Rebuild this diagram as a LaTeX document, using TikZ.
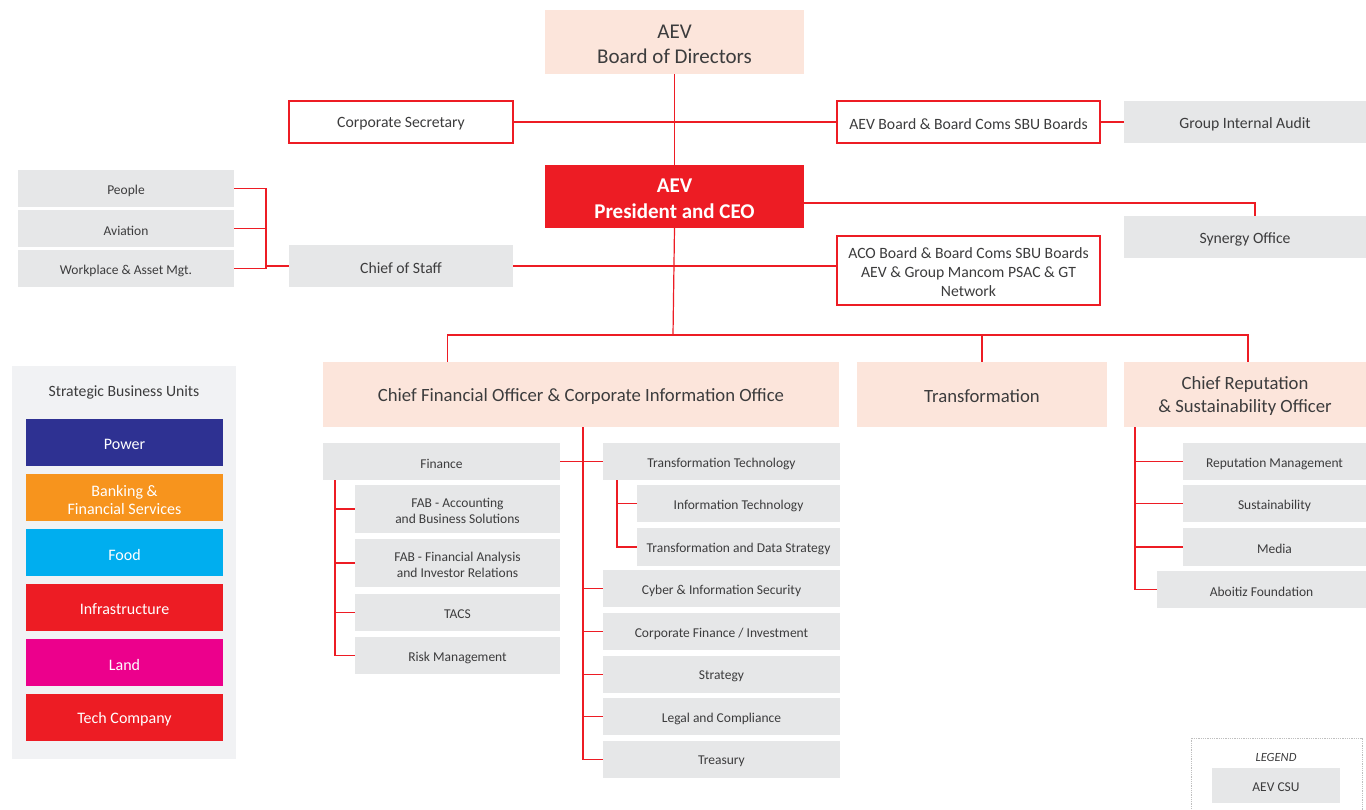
\documentclass[tikz,border=0pt]{standalone}
\usepackage{fontspec}
\setmainfont{Carlito}
\usetikzlibrary{calc}
\definecolor{aevred}{HTML}{ED1C24}
\definecolor{boxgray}{HTML}{E6E7E8}
\definecolor{peach}{HTML}{FCE5DB}
\definecolor{txt}{HTML}{3C3C3D}
\definecolor{panel}{HTML}{F1F2F4}
\definecolor{sbupower}{HTML}{2E3192}
\definecolor{sbubank}{HTML}{F7941D}
\definecolor{sbufood}{HTML}{00AEEF}
\definecolor{sbuland}{HTML}{EC008C}
\newcommand\mkbox[7]{%
  \node[#2, minimum width={(#5-#3)*1pt}, minimum height={(#6-#4)*1pt}] (#1) at ({(#3+#5)/2},{(#4+#6)/2}) {};
  \node[#2, fill=none, draw=none, minimum width=0pt, minimum height=0pt, yshift=-2pt] (#1-t) at (#1.center) {#7};}
\tikzset{
  base/.style={inner sep=0pt, outer sep=0pt, align=center, text=txt},
  gbox/.style={base, fill=boxgray},
  pbox/.style={base, fill=peach},
  rbox/.style={base, fill=white, draw=aevred, line width=1.2pt},
  sbubox/.style={base, text=white, fill=#1},
  conn/.style={draw=aevred, line width=1.2pt},
  fsmall/.style={font=\fontsize{13.5}{16}\selectfont},
  fmed/.style={font=\fontsize{15.7}{19}\selectfont},
  fsbu/.style={font=\fontsize{16}{18}\selectfont},
  fbig/.style={font=\fontsize{18.7}{23}\selectfont},
  fhuge/.style={font=\fontsize{21}{25}\selectfont},
}
\begin{document}
\begin{tikzpicture}[x=1pt,y=-1pt]
\useasboundingbox[fill=white] (0,0) rectangle (1366,809);
% top
\mkbox{board}{pbox,fhuge}{545}{10}{804}{74}{AEV\\Board of Directors}
\mkbox{csec}{rbox,fmed}{289}{101}{513}{143}{Corporate Secretary}
\mkbox{aevb}{rbox,fmed}{837}{101}{1100}{143}{AEV Board \& Board Coms SBU Boards}
\mkbox{gia}{gbox,fmed}{1124}{101}{1366}{143}{Group Internal Audit}
\mkbox{ceo}{base,fill=aevred,text=white,font=\fontsize{21}{26}\selectfont\bfseries}{545}{165}{804}{228}{AEV\\President and CEO}
\mkbox{syn}{gbox,fmed}{1124}{216}{1366}{258}{Synergy Office}
% left group
\mkbox{people}{gbox,fsmall}{18}{170}{234}{207}{People}
\mkbox{avia}{gbox,fsmall}{18}{210}{234}{247}{Aviation}
\mkbox{wpl}{gbox,fsmall}{18}{250}{234}{287}{Workplace \& Asset Mgt.}
\mkbox{cos}{gbox,fmed}{289}{245}{513}{287}{Chief of Staff}
\mkbox{aco}{rbox,fmed}{837}{236}{1100}{305}{ACO Board \& Board Coms SBU Boards\\AEV \& Group Mancom PSAC \& GT\\Network}
% second level
\mkbox{cfo}{pbox,fbig}{323}{362}{839}{427}{Chief Financial Officer \& Corporate Information Office}
\mkbox{trans}{pbox,fbig}{857}{362}{1107}{427}{Transformation}
\mkbox{crso}{pbox,fbig}{1124}{362}{1366}{427}{Chief Reputation\\\& Sustainability Officer}
% finance
\mkbox{fin}{gbox,fsmall}{323}{443}{560}{480}{Finance}
\mkbox{facc}{gbox,fsmall}{355}{485}{560}{533}{FAB - Accounting\\and Business Solutions}
\mkbox{ffa}{gbox,fsmall}{355}{539}{560}{587}{FAB - Financial Analysis\\and Investor Relations}
\mkbox{tacs}{gbox,fsmall}{355}{594}{560}{631}{TACS}
\mkbox{risk}{gbox,fsmall}{355}{637}{560}{674}{Risk Management}
% tech
\mkbox{tt}{gbox,fsmall}{603}{443}{840}{480}{Transformation Technology}
\mkbox{it}{gbox,fsmall}{637}{485}{840}{522}{Information Technology}
\mkbox{tds}{gbox,fsmall}{637}{528}{840}{566}{Transformation and Data Strategy}
\mkbox{cyber}{gbox,fsmall}{603}{570}{840}{607}{Cyber \& Information Security}
\mkbox{cfin}{gbox,fsmall}{603}{613}{840}{650}{Corporate Finance / Investment}
\mkbox{strat}{gbox,fsmall}{603}{656}{840}{693}{Strategy}
\mkbox{legal}{gbox,fsmall}{603}{698}{840}{735}{Legal and Compliance}
\mkbox{treas}{gbox,fsmall}{603}{741}{840}{778}{Treasury}
% crso
\mkbox{rep}{gbox,fsmall}{1183}{443}{1366}{480}{Reputation Management}
\mkbox{sust}{gbox,fsmall}{1183}{485}{1366}{522}{Sustainability}
\mkbox{media}{gbox,fsmall}{1183}{528}{1366}{566}{Media}
\mkbox{abf}{gbox,fsmall}{1157}{571}{1366}{608}{Aboitiz Foundation}
% SBU panel
\node[base,fill=panel,minimum width=224pt,minimum height=393pt] (panel) at (124,562.5) {};
\node[base,fmed] (sbutitle) at (124,392) {Strategic Business Units};
\mkbox{power}{sbubox=sbupower,fsbu}{26}{419}{223}{466}{Power}
\mkbox{bank}{sbubox=sbubank,fsbu}{26}{474}{223}{521}{Banking \&\\Financial Services}
\mkbox{food}{sbubox=sbufood,fsbu}{26}{529}{223}{576}{Food}
\mkbox{infra}{sbubox=aevred,fsbu}{26}{584}{223}{631}{Infrastructure}
\mkbox{land}{sbubox=sbuland,fsbu}{26}{639}{223}{686}{Land}
\mkbox{tech}{sbubox=aevred,fsbu}{26}{694}{223}{741}{Tech Company}
% legend
\node[base,draw=black!25,densely dotted,line width=0.8pt,minimum width=171pt,minimum height=74pt] (legbox) at (1276.5,775) {};
\node[base,font=\fontsize{12.5}{15}\selectfont\itshape] (legtitle) at (1276,757) {LEGEND};
\mkbox{csu}{gbox,fsmall}{1212}{768}{1340}{803}{AEV CSU}
% connectors
\coordinate (bus) at (673,335);
\coordinate (lj) at (266,266);
\draw[conn] (board.south) -- (ceo.north);
\draw[conn] (csec.east) -- (aevb.west);
\draw[conn] (aevb.east) -- (gia.west);
\draw[conn] ([yshift=-6.5pt]ceo.east) -| ([xshift=10pt]syn.north);
\draw[conn] (people.east) -| (lj) -- (cos.west);
\draw[conn] (avia.east) -| (lj);
\draw[conn] (wpl.east) -| (lj);
\draw[conn] (cos.east) -- (cos.east -| aco.west);
\draw[conn] (ceo.south) -- (bus);
\draw[conn] ($(cfo.north west)!0.242!(cfo.north east)$) |- (bus) -| (trans.north);
\draw[conn] (bus) -| ([xshift=3pt]crso.north);
% cfo branch
\coordinate (cs) at ([xshift=2pt]cfo.south);
\draw[conn] (cs) |- (treas.west);
\foreach \n in {tt,cyber,cfin,strat,legal} \draw[conn] (cs |- \n.west) -- (\n.west);
\draw[conn] (fin.east) -- (tt.west);
\coordinate (fs) at ([xshift=12pt]fin.south west);
\draw[conn] (fs) |- (risk.west);
\foreach \n in {facc,ffa,tacs} \draw[conn] (fs |- \n.west) -- (\n.west);
\coordinate (ts) at ([xshift=14pt]tt.south west);
\draw[conn] (ts) |- (tds.west);
\draw[conn] (ts |- it.west) -- (it.west);
\coordinate (rs) at ([xshift=11pt]crso.south west);
\draw[conn] (rs) |- (abf.west);
\foreach \n in {rep,sust,media} \draw[conn] (rs |- \n.west) -- (\n.west);
\end{tikzpicture}
\end{document}
